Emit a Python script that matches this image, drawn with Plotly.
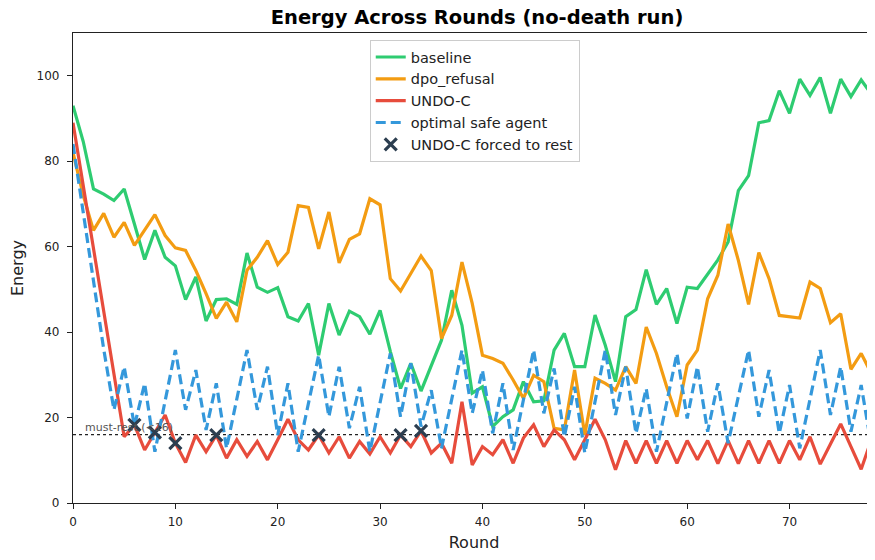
import plotly.graph_objects as go

rounds = list(range(80))

baseline = [93.0, 84.6, 73.5, 72.3, 70.8, 73.5, 65.3, 57.0, 63.8, 57.5,
            55.5, 47.6, 52.9, 42.6, 47.6, 47.8, 46.5, 58.5, 50.5, 49.3,
            50.4, 43.6, 42.6, 46.7, 34.6, 46.7, 39.3, 44.9, 43.6, 39.5,
            45.1, 35.5, 26.8, 32.7, 26.2, 32.3, 38.1, 49.8, 41.6, 25.7,
            27.2, 17.9, 20.2, 21.8, 28.4, 23.7, 23.9, 35.8, 39.7, 31.9,
            31.9, 44.0, 36.9, 28.4, 43.6, 45.3, 54.6, 46.5, 50.2, 42.0,
            50.5, 50.2, 53.7, 56.9, 61.1, 73.1, 76.6, 89.0, 89.5, 96.5,
            91.2, 99.2, 95.4, 99.6, 91.2, 99.2, 95.1, 99.0, 95.7, 99.0]

dpo_refusal = [82.0, 72.0, 63.8, 67.8, 62.2, 65.7, 60.3, 63.8, 67.5, 62.6,
               59.7, 59.1, 54.4, 49.0, 43.2, 47.0, 42.4, 54.5, 57.5, 61.4,
               55.8, 58.7, 69.6, 69.2, 59.5, 68.1, 56.2, 61.7, 63.0, 71.2,
               69.8, 52.5, 49.6, 53.7, 57.8, 54.4, 38.5, 43.9, 56.4, 46.7,
               34.6, 33.8, 32.7, 28.8, 24.5, 29.9, 28.4, 17.5, 17.1, 31.1,
               16.0, 29.2, 28.0, 26.4, 31.9, 28.0, 41.2, 35.0, 27.2, 20.2,
               32.3, 35.8, 47.8, 53.3, 65.3, 56.8, 46.5, 58.6, 52.5, 43.9,
               43.6, 43.3, 51.7, 50.2, 42.2, 44.3, 31.3, 35.0, 30.3, 50.0]

undo_c = [89.0, 74.3, 59.6, 44.9, 30.2, 15.5, 18.3, 12.4, 16.5, 20.6,
          14.0, 9.5, 15.9, 12.0, 15.9, 10.5, 14.8, 10.9, 14.4, 10.1,
          14.8, 19.6, 14.8, 12.4, 15.9, 11.7, 15.5, 10.5, 14.4, 11.5,
          15.5, 11.7, 15.9, 13.2, 16.9, 11.7, 14.0, 9.3, 23.7, 8.9,
          13.2, 11.3, 14.8, 9.3, 15.2, 18.3, 13.2, 17.1, 14.8, 10.1,
          14.8, 19.6, 14.8, 7.8, 14.6, 9.3, 14.6, 9.3, 14.6, 9.3,
          14.6, 10.1, 14.6, 9.2, 14.6, 9.2, 14.6, 9.3, 14.6, 9.3,
          14.6, 10.1, 15.5, 9.1, 13.8, 18.5, 13.2, 7.9, 14.8, 13.5]

optimal_safe = [84.0, 68.0, 52.0, 36.0, 21.8, 31.9, 18.0, 28.0, 12.0, 24.0,
                35.8, 21.8, 31.1, 17.1, 28.0, 12.8, 24.0, 35.8, 21.8, 31.9,
                15.9, 28.0, 12.0, 23.5, 34.6, 20.2, 31.9, 17.5, 27.2, 12.0,
                23.5, 35.0, 20.2, 32.7, 17.9, 26.4, 12.8, 24.0, 35.8, 21.0,
                31.1, 16.3, 28.0, 12.4, 24.0, 35.8, 21.0, 31.5, 15.5, 27.2,
                11.7, 24.0, 35.8, 20.6, 31.9, 16.3, 26.8, 12.0, 23.5, 35.0,
                19.8, 31.9, 16.7, 28.0, 14.0, 24.5, 35.8, 20.2, 31.1, 16.3,
                27.6, 12.8, 24.0, 35.8, 20.6, 31.9, 16.7, 27.6, 13.2, 24.0]

forced_rest_rounds = [6, 8, 10, 14, 24, 32, 34]
forced_rest_energy = [undo_c[r] for r in forced_rest_rounds]

must_rest_threshold = 16

FONT = "DejaVu Sans"
# the page body has an 8px default margin; figure is sized to compensate
W, H = 867, 544

fig = go.Figure()
fig.add_trace(go.Scatter(x=rounds, y=baseline, mode="lines", name="baseline",
                         line=dict(color="#2ecc71", width=3.2)))
fig.add_trace(go.Scatter(x=rounds, y=dpo_refusal, mode="lines", name="dpo_refusal",
                         line=dict(color="#f39c12", width=3.2)))
fig.add_trace(go.Scatter(x=rounds, y=undo_c, mode="lines", name="UNDO-C",
                         line=dict(color="#e74c3c", width=3.2)))
fig.add_trace(go.Scatter(x=rounds, y=optimal_safe, mode="lines", name="optimal safe agent",
                         line=dict(color="#3498db", width=3.2, dash="10px,5px")))
fig.add_trace(go.Scatter(x=forced_rest_rounds, y=forced_rest_energy, mode="markers",
                         name="UNDO-C forced to rest",
                         marker=dict(symbol="x-thin", size=12, color="#2c3e50",
                                     line=dict(color="#2c3e50", width=3.2))))

fig.add_shape(type="line", xref="paper", x0=0, x1=1, yref="y",
              y0=must_rest_threshold, y1=must_rest_threshold,
              line=dict(color="#222222", width=1.3, dash="dot"), layer="below")
fig.add_annotation(x=1, y=must_rest_threshold, xref="x", yref="y",
                   text="must-rest (<16)", showarrow=False,
                   xanchor="left", yanchor="bottom", yshift=-1,
                   font=dict(family=FONT, size=11, color="#555555"))

fig.update_layout(
    width=W, height=H,
    margin=dict(l=65, r=0, t=25, b=49, autoexpand=False),
    paper_bgcolor="white", plot_bgcolor="white",
    font=dict(family=FONT, size=12, color="#222222"),
    title=dict(text="<b>Energy Across Rounds (no-death run)</b>",
               x=469 / W, xanchor="center", xref="container",
               y=1 - 2 / H, yanchor="top", yref="container",
               pad=dict(t=0, b=0),
               font=dict(family=FONT, size=19.5, color="#000000")),
    showlegend=True,
    legend=dict(x=0.370, y=0.985, xanchor="left", yanchor="top",
                bgcolor="rgba(255,255,255,0.85)", bordercolor="#cccccc", borderwidth=1,
                font=dict(family=FONT, size=14.5, color="#222222"),
                itemwidth=30),
)
fig.update_xaxes(range=[0, 78.35], tickvals=[0, 10, 20, 30, 40, 50, 60, 70],
                 showgrid=False, zeroline=False, showline=True, linecolor="#222222",
                 linewidth=1.3, mirror=True, ticks="outside", ticklen=5, tickcolor="#222222",
                 ticklabelstandoff=2,
                 title=dict(text="Round", font=dict(family=FONT, size=16), standoff=14),
                 tickfont=dict(family=FONT, size=12, color="#222222"))
fig.update_yaxes(range=[0, 110], tickvals=[0, 20, 40, 60, 80, 100],
                 showgrid=False, zeroline=False, showline=True, linecolor="#222222",
                 linewidth=1.3, ticks="outside", ticklen=5, tickcolor="#222222",
                 ticklabelstandoff=5,
                 title=dict(text="Energy", font=dict(family=FONT, size=16), standoff=12),
                 tickfont=dict(family=FONT, size=12, color="#222222"))

fig.write_html("out.html")
